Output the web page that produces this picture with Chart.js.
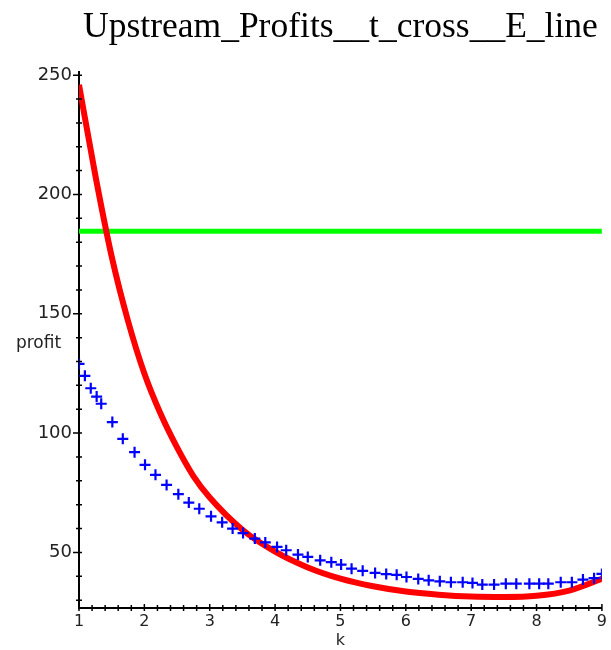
<!DOCTYPE html>
<html>
<head>
<meta charset="utf-8">
<script src="https://cdn.jsdelivr.net/npm/chart.js@4.4.0/dist/chart.umd.min.js"></script>
<style>
  html, body { margin: 0; padding: 0; background: #fff; }
</style>
</head>
<body>
<canvas id="myChart" width="611" height="650"></canvas>
<script>
const chartTitle = "Upstream_Profits__t_cross__E_line";
const xLabel = "k";
const yLabel = "profit";

// red curve
const redK = [1.0, 1.25, 1.5, 1.75, 2.0, 2.25, 2.5, 2.75, 3.0, 3.5, 4.0, 4.5, 5.0, 5.5, 6.0, 6.5, 7.0, 7.5, 8.0, 8.5, 9.0];
const redProfit = [246, 208, 174, 147, 125, 108, 94, 82, 73, 59.5, 50.3, 43.7, 39, 35.8, 33.6, 32.3, 31.5, 31.3, 31.8, 34, 38.9];

// blue crosses
const blueK = [1.0, 1.09, 1.18, 1.27, 1.34, 1.51, 1.67, 1.85, 2.01, 2.17, 2.34, 2.52, 2.68, 2.84, 3.02, 3.19, 3.35, 3.51, 3.69, 3.85, 4.03, 4.17, 4.35, 4.5, 4.69, 4.86, 5.01, 5.17, 5.34, 5.53, 5.7, 5.86, 6.01, 6.19, 6.35, 6.52, 6.69, 6.87, 7.02, 7.17, 7.35, 7.53, 7.69, 7.89, 8.04, 8.18, 8.37, 8.54, 8.71, 8.88, 9.0];
const blueProfit = [129, 124, 118.8, 115.3, 112.3, 104.6, 97.6, 92, 86.7, 82.5, 78.3, 74.4, 70.9, 68.3, 65.1, 62.6, 60, 58.1, 55.8, 54.2, 52.3, 50.9, 49.1, 48.1, 46.7, 45.9, 44.9, 43.2, 42.3, 41.4, 40.9, 40.6, 39.7, 38.9, 38.3, 37.9, 37.5, 37.5, 37.2, 36.5, 36.5, 36.9, 36.9, 36.9, 36.9, 36.9, 37.5, 37.5, 38.6, 39.2, 41];

// green line
const greenK = [1, 9];
const greenProfit = [184.6, 184.6];

const yTicks = [30, 40, 50, 60, 70, 80, 90, 100, 110, 120, 130, 140, 150, 160, 170, 180, 190, 200, 210, 220, 230, 240, 250];
const xTicks = [];
for (let i = 0; i <= 40; i++) xTicks.push(Math.round((1 + i * 0.2) * 10) / 10);

const toPoints = (xs, ys) => xs.map((x, i) => ({ x: x, y: ys[i] }));
const isInt = (v) => Math.abs(v - Math.round(v)) < 1e-6;

// small tick marks crossing the axes + the "profit" label
const axisTicks = {
  id: "axisTicks",
  afterDraw(chart) {
    const ctx = chart.ctx;
    const xs = chart.scales.x;
    const ys = chart.scales.y;
    const ax = chart.chartArea.left;
    const ay = chart.chartArea.bottom;
    ctx.save();
    ctx.strokeStyle = "#000";
    ctx.lineWidth = 1.5;
    ctx.beginPath();
    ys.ticks.forEach((t) => {
      const py = ys.getPixelForValue(t.value);
      const major = t.value % 50 === 0;
      ctx.moveTo(ax - (major ? 6 : 3), py);
      ctx.lineTo(ax + 3, py);
    });
    xs.ticks.forEach((t) => {
      const px = xs.getPixelForValue(t.value);
      const major = isInt(t.value);
      ctx.moveTo(px, ay - (major ? 4 : 3));
      ctx.lineTo(px, ay + 3);
    });
    ctx.stroke();

    ctx.fillStyle = "#222";
    ctx.font = "17px 'DejaVu Sans'";
    ctx.textAlign = "center";
    ctx.textBaseline = "middle";
    ctx.fillText(yLabel, 38.5, ys.getPixelForValue(137.5));
    ctx.restore();
  },
};

const config = {
  type: "scatter",
  data: {
    datasets: [
      {
        label: "E line",
        data: toPoints(greenK, greenProfit),
        showLine: true,
        borderColor: "#00ff00",
        borderWidth: 5,
        pointRadius: 0,
        order: 3,
      },
      {
        label: "profit",
        data: toPoints(redK, redProfit),
        showLine: true,
        borderColor: "#ff0000",
        borderWidth: 6,
        pointRadius: 0,
        cubicInterpolationMode: "monotone",
        order: 2,
      },
      {
        label: "t cross",
        data: toPoints(blueK, blueProfit),
        showLine: false,
        pointStyle: "cross",
        pointRadius: 5.5,
        borderColor: "#0000ff",
        backgroundColor: "#0000ff",
        borderWidth: 2.2,
        order: 1,
      },
    ],
  },
  options: {
    responsive: false,
    animation: false,
    layout: {
      padding: { left: 0, right: 8, top: 0, bottom: 0 },
    },
    plugins: {
      legend: { display: false },
      tooltip: { enabled: false },
      title: {
        display: true,
        text: chartTitle,
        fullSize: false,
        color: "#000",
        font: { family: "'Liberation Serif', 'Times New Roman', serif", size: 35.5, weight: "normal" },
        padding: { top: 6, bottom: 23 },
      },
    },
    scales: {
      x: {
        type: "linear",
        min: 1,
        max: 9,
        afterBuildTicks: (scale) => {
          scale.ticks = xTicks.map((v) => ({ value: v }));
        },
        afterFit: (scale) => {
          scale.height = 42;
        },
        grid: { display: false, drawTicks: false },
        border: { display: true, color: "#000", width: 2 },
        ticks: {
          autoSkip: false,
          maxRotation: 0,
          padding: 4,
          color: "#222",
          font: { family: "'DejaVu Sans'", size: 16 },
          callback: (v) => (isInt(v) ? String(Math.round(v)) : ""),
        },
        title: {
          display: true,
          text: xLabel,
          color: "#222",
          font: { family: "'DejaVu Sans'", size: 16 },
          padding: { top: 0, bottom: 0 },
        },
      },
      y: {
        type: "linear",
        min: 26.7,
        max: 251.5,
        afterBuildTicks: (scale) => {
          scale.ticks = yTicks.map((v) => ({ value: v }));
        },
        afterFit: (scale) => {
          scale.width = 79;
        },
        grid: { display: false, drawTicks: false },
        border: { display: true, color: "#000", width: 2 },
        ticks: {
          autoSkip: false,
          padding: 7,
          color: "#222",
          font: { family: "'DejaVu Sans'", size: 18 },
          callback: (v) => (v % 50 === 0 ? String(v) : ""),
        },
      },
    },
  },
  plugins: [axisTicks],
};

var ctx = document.getElementById("myChart").getContext("2d");
var myChart = new Chart(ctx, config);
</script>
</body>
</html>
